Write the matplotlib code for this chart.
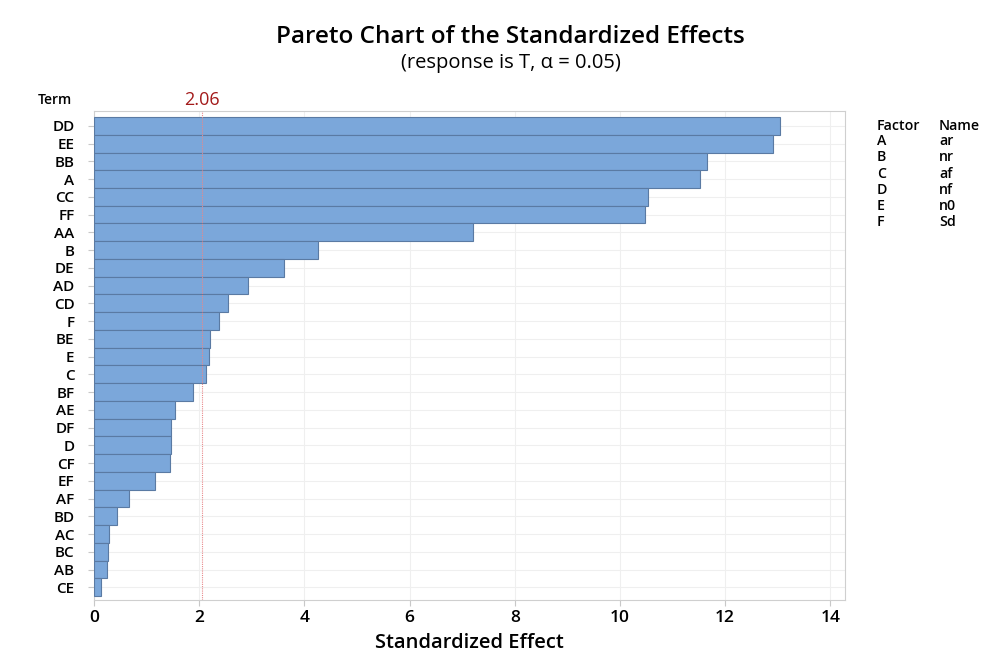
import matplotlib
matplotlib.use('Agg')
import matplotlib.pyplot as plt
import numpy as np

plt.rcParams['font.family'] = ['Open Sans', 'DejaVu Sans']

terms = ['DD', 'EE', 'BB', 'A', 'CC', 'FF', 'AA', 'B', 'DE', 'AD', 'CD', 'F', 'BE', 'E',
         'C', 'BF', 'AE', 'DF', 'D', 'CF', 'EF', 'AF', 'BD', 'AC', 'BC', 'AB', 'CE']
effects = [13.04, 12.91, 11.65, 11.52, 10.53, 10.48, 7.21, 4.26, 3.61, 2.93, 2.55, 2.38, 2.20, 2.19,
           2.13, 1.88, 1.54, 1.46, 1.46, 1.44, 1.16, 0.67, 0.44, 0.28, 0.26, 0.24, 0.13]
critical = 2.06
factors = ['A', 'B', 'C', 'D', 'E', 'F']
names = ['ar', 'nr', 'af', 'nf', 'n0', 'Sd']

fig = plt.figure(figsize=(10.01, 6.69), dpi=100)
ax = fig.add_axes([0.0939, 0.1031, 0.7502, 0.731])

y = np.arange(len(terms))
ax.barh(y, effects, height=1.0, color='#7ba7da', edgecolor='#5a7aa3', linewidth=0.8, zorder=3)
ax.axvline(critical, color='#e8888a', linestyle=(0, (1, 1)), linewidth=0.8, zorder=4)

ax.set_xlim(0, 14.28)
ax.set_ylim(len(terms) - 0.5 + 0.22, -0.5 - 0.34)
ax.set_yticks(y)
ax.set_yticklabels(terms, fontsize=11, fontweight='semibold')
ax.set_xticks(np.arange(0, 15, 2))
ax.tick_params(axis='x', labelsize=12.5, colors='#c8c8c8', labelcolor='black', length=4, pad=3)
ax.tick_params(axis='y', colors='#c8c8c8', labelcolor='black', length=4, pad=10)
for lab in ax.get_xticklabels():
    lab.set_fontweight('semibold')
ax.grid(True, color='#efefef', linewidth=0.8, zorder=0)
ax.set_axisbelow(True)
for s in ax.spines.values():
    s.set_color('#cfcfcf')
    s.set_linewidth(0.8)

ax.set_xlabel('Standardized Effect', fontsize=14.5, fontweight='semibold', labelpad=5)

fig.text(0.51, 0.944, 'Pareto Chart of the Standardized Effects', ha='center', va='center',
         fontsize=17.5, fontweight='semibold')
fig.text(0.51, 0.906, '(response is T, α = 0.05)', ha='center', va='center', fontsize=14.5)
fig.text(0.055, 0.851, 'Term', ha='center', va='center', fontsize=10, fontweight='semibold')
ax.text(critical, 1.004, f'{critical:.2f}', transform=ax.get_xaxis_transform(), ha='center', va='bottom',
        color='#a31a1a', fontsize=13)

fig.text(0.876, 0.812, 'Factor', ha='left', va='center', fontsize=10.2, fontweight='semibold')
fig.text(0.938, 0.812, 'Name', ha='left', va='center', fontsize=10.2, fontweight='semibold')
for i, (f, n) in enumerate(zip(factors, names)):
    yy = 0.789 - i * 0.0242
    fig.text(0.876, yy, f, ha='left', va='center', fontsize=10.2, fontweight='semibold')
    fig.text(0.938, yy, n, ha='left', va='center', fontsize=10.2, fontweight='semibold')

fig.savefig('out.png', dpi=100)
